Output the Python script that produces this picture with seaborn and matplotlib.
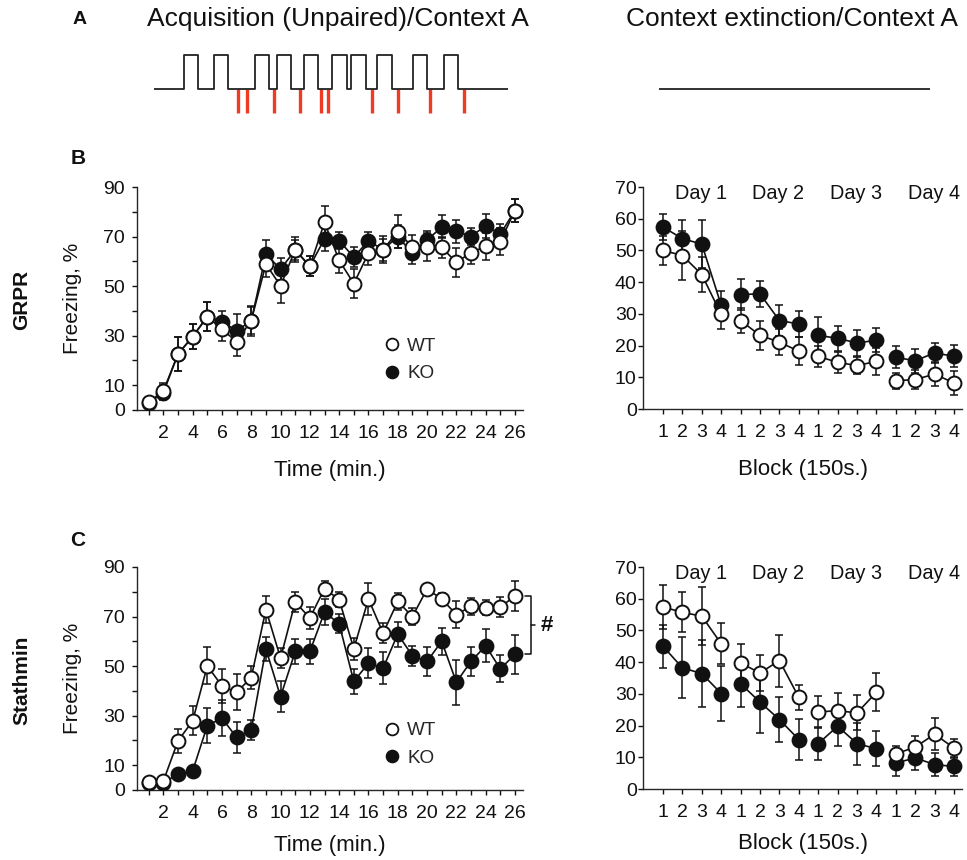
import matplotlib
matplotlib.use("Agg")
import matplotlib.pyplot as plt
import seaborn as sns
import pandas as pd
from matplotlib.lines import Line2D

# ---------------- data ----------------
time_min = list(range(1, 27))
time_ticklabels = [str(t) if t % 2 == 0 else "" for t in time_min]
blocks = list(range(1, 17))
block_day = [1] * 4 + [2] * 4 + [3] * 4 + [4] * 4
block_ticklabels = ["1", "2", "3", "4"] * 4
day_labels = ["Day 1", "Day 2", "Day 3", "Day 4"]
acq_yticks = [0, 10, 20, 30, 40, 50, 60, 70, 80, 90]
acq_yticklabels = ["0", "10", "", "30", "", "50", "", "70", "", "90"]
ext_yticks = [0, 10, 20, 30, 40, 50, 60, 70]

# GRPR acquisition
grpr_acq_wt = [3.1, 7.7, 22.6, 29.6, 37.7, 32.6, 27.6, 36.1, 58.9, 50.1, 64.7, 58.0, 75.7,
               60.4, 51.0, 63.3, 64.7, 72.0, 65.8, 65.8, 65.6, 59.6, 63.5, 66.0, 68.0, 80.5]
grpr_acq_wt_err = [1, 3, 7, 5, 6, 4.6, 6, 5.5, 5.3, 7, 5, 4, 6.5, 5, 6, 4.7, 5.5, 6.6, 5,
                   5.8, 4.3, 5.9, 4.5, 5.4, 5.4, 4.8]
grpr_acq_ko = [3.0, 7.0, 22.6, 29.6, 37.7, 35.7, 32.0, 36.0, 62.8, 56.9, 64.5, 58.0, 69.1,
               68.3, 61.7, 68.3, 64.7, 70.0, 63.3, 68.5, 73.9, 72.2, 70.0, 74.4, 71.0, 80.5]
grpr_acq_ko_err = [1, 3, 7, 5, 6, 4.4, 6.9, 6, 5.7, 4.5, 4, 4, 5, 3.5, 4, 3.4, 4.5, 4.5,
                   4.5, 3.6, 4.6, 4.6, 3.4, 4.9, 4, 4.8]

# GRPR extinction
grpr_ext_wt = [50.0, 48.4, 42.4, 29.8, 27.9, 23.2, 21.1, 18.2, 16.6, 14.7, 13.7, 15.0,
               8.9, 9.3, 11.0, 8.2]
grpr_ext_wt_err = [4.7, 7.6, 5.6, 4.5, 4.0, 4.5, 4.0, 4.4, 3.4, 3.2, 2.8, 4.2, 2.6, 2.9, 3.9, 3.7]
grpr_ext_ko = [57.4, 53.7, 52.0, 32.7, 36.1, 36.3, 27.9, 26.8, 23.2, 22.3, 20.8, 21.7,
               16.3, 15.2, 17.7, 16.6]
grpr_ext_ko_err = [4.1, 6.0, 7.5, 4.4, 4.9, 4.0, 5.0, 4.0, 5.7, 4.0, 4.2, 3.8, 3.5, 3.8, 3.2, 3.5]

# Stathmin acquisition
stat_acq_wt = [3.4, 3.6, 19.8, 27.9, 50.1, 42.0, 39.4, 45.4, 72.8, 53.2, 75.9, 69.4, 81.3,
               76.8, 57.0, 77.1, 63.3, 76.1, 70.0, 81.1, 77.1, 70.8, 74.1, 73.5, 73.9, 78.2]
stat_acq_wt_err = [1, 1, 4.8, 5.8, 7.5, 7, 7.3, 4.5, 5.4, 4, 4, 4.4, 3, 3, 4.5, 6.5, 4, 3.4,
                   3.4, 2, 2.5, 5.6, 3.5, 3, 4, 6]
stat_acq_ko = [3.0, 3.0, 6.3, 7.7, 26.0, 29.0, 21.2, 24.3, 56.9, 37.7, 55.9, 55.9, 71.8,
               67.1, 43.8, 51.2, 49.2, 62.9, 54.2, 51.9, 60.0, 43.5, 51.9, 58.2, 48.9, 54.7]
stat_acq_ko_err = [1, 1, 2, 2, 7, 7.4, 6.3, 4, 5, 6.3, 5, 5, 5.2, 3.8, 5.1, 6, 6.5, 5.1, 4,
                   5.8, 5.4, 9, 6, 6.7, 5.4, 7.7]

# Stathmin extinction
stat_ext_wt = [57.4, 55.7, 54.5, 45.8, 39.7, 36.6, 40.5, 28.9, 24.3, 24.7, 24.0, 30.5,
               11.1, 13.2, 17.3, 12.9]
stat_ext_wt_err = [7.0, 6.3, 9.1, 6.5, 6.0, 5.7, 8.2, 4.0, 4.9, 5.5, 5.5, 6.0, 2.5, 3.5, 5.0, 3.0]
stat_ext_ko = [45.0, 38.2, 36.4, 30.1, 33.2, 27.4, 21.9, 15.6, 14.3, 19.8, 14.3, 12.7,
               8.2, 9.8, 7.7, 7.1]
stat_ext_ko_err = [6.8, 9.6, 10.5, 8.7, 7.3, 9.7, 7.0, 6.5, 5.0, 6.3, 6.6, 5.6, 4.0, 3.9, 3.5, 3.1]

# Protocol schematic (minutes)
session_length = 26
tone_onsets = [2.2, 4.4, 7.4, 9.0, 11.0, 13.1, 14.5, 16.4, 19.0, 21.3]
tone_duration = 1.06
shock_times = [6.2, 6.8, 8.8, 10.7, 12.3, 12.8, 16.0, 17.9, 20.3, 22.8]

# ---------------- style ----------------
sns.set_style("ticks")
plt.rcParams["font.family"] = ["Liberation Sans", "DejaVu Sans"]
plt.rcParams["axes.linewidth"] = 1.0

W, H = 967, 860
fig = plt.figure(figsize=(W / 100, H / 100), dpi=100)
fig.patch.set_facecolor("white")


def fx(px):
    return px / W


def fy(py):
    return 1 - py / H


BLACK = "#111111"
MS = 100  # scatter marker area


def draw_series(ax, x, y, err, filled, units=None, z=3):
    df = pd.DataFrame({"x": x, "y": y})
    ax.errorbar(x, y, yerr=err, fmt="none", ecolor=BLACK, elinewidth=1.1,
                capsize=2.6, capthick=1.1, zorder=z)
    if units is None:
        sns.lineplot(data=df, x="x", y="y", color=BLACK, lw=1.2, ax=ax,
                     estimator=None, sort=False, zorder=z)
    else:
        df["u"] = units
        sns.lineplot(data=df, x="x", y="y", units="u", estimator=None, color=BLACK,
                     lw=1.2, ax=ax, zorder=z)
    sns.scatterplot(data=df, x="x", y="y", s=MS, color=BLACK if filled else "white",
                    edgecolor=BLACK, linewidth=1.4, ax=ax, zorder=z + 0.5)


def style_acq(ax, xlabel_y):
    ax.set_xlim(0.2, 26.55)
    ax.set_ylim(0, 90)
    ax.set_xticks(time_min)
    ax.set_xticklabels(time_ticklabels)
    ax.set_yticks(acq_yticks)
    ax.set_yticklabels(acq_yticklabels)
    ax.tick_params(axis="both", direction="out", length=3.5, width=1.0, labelsize=14,
                   color=BLACK, labelcolor=BLACK)
    ax.tick_params(axis="x", pad=7)
    ax.tick_params(axis="y", pad=5)
    ax.set_xlabel("Time (min.)", fontsize=16, color=BLACK)
    ax.set_ylabel("Freezing, %", fontsize=15, color=BLACK)
    ax.xaxis.set_label_coords(0.5, xlabel_y)
    ax.yaxis.set_label_coords(-0.142, 0.5)
    sns.despine(ax=ax)


def style_ext(ax, xlabel_y):
    ax.set_xlim(-0.03, 16.41)
    ax.set_ylim(0, 70)
    ax.set_xticks(blocks)
    ax.set_xticklabels(block_ticklabels)
    ax.set_yticks(ext_yticks)
    ax.tick_params(axis="both", direction="out", length=3.5, width=1.0, labelsize=14,
                   color=BLACK, labelcolor=BLACK)
    ax.tick_params(axis="x", pad=7)
    ax.tick_params(axis="y", pad=1)
    ax.set_xlabel("Block (150s.)", fontsize=16, color=BLACK)
    ax.set_ylabel("")
    ax.xaxis.set_label_coords(0.5, xlabel_y)
    for k, lab in enumerate(day_labels):
        ax.text(4 * k + 2.95, 68, lab, ha="center", va="center", fontsize=14.3, color=BLACK)
    sns.despine(ax=ax)


def add_legend(ax, anchor):
    handles = [Line2D([], [], marker="o", ls="none", mfc="white", mec=BLACK, mew=1.3, ms=8.5),
               Line2D([], [], marker="o", ls="none", mfc=BLACK, mec=BLACK, mew=1.3, ms=8.5)]
    ax.legend(handles, ["WT", "KO"], loc="upper left", bbox_to_anchor=anchor, frameon=False,
              fontsize=13.6, handlelength=1.0, handletextpad=0.3, borderpad=0,
              borderaxespad=0, labelspacing=0.55)


# ---------------- panel A: protocol schematic ----------------
axA = fig.add_axes([fx(154), fy(115), fx(508 - 154), 65 / H])
xs, ys = [0], [0]
for on in tone_onsets:
    xs += [on, on, on + tone_duration, on + tone_duration]
    ys += [0, 1, 1, 0]
xs.append(session_length)
ys.append(0)
axA.plot(xs, ys, color="#222222", lw=1.3, zorder=3)
axA.vlines(shock_times, -0.706, 0, colors="#ee3b24", lw=2.4, zorder=2)
axA.set_xlim(0, session_length)
axA.set_ylim(-0.765, 1.147)
axA.axis("off")

axA2 = fig.add_axes([fx(659), fy(115), fx(930 - 659), 65 / H])
axA2.plot([0, 1], [0, 0], color="#222222", lw=1.3)
axA2.set_xlim(0, 1)
axA2.set_ylim(-0.765, 1.147)
axA2.axis("off")

fig.text(fx(80), fy(19), "A", fontsize=14, fontweight="bold", ha="center", va="center",
         color=BLACK)
fig.text(fx(338), fy(19), "Acquisition (Unpaired)/Context A", fontsize=19, ha="center",
         va="center", color=BLACK)
fig.text(fx(792), fy(19), "Context extinction/Context A", fontsize=19, ha="center",
         va="center", color=BLACK)

# ---------------- panel B ----------------
axB1 = fig.add_axes([fx(137), fy(410), fx(523 - 137), 223 / H])
draw_series(axB1, time_min, grpr_acq_ko, grpr_acq_ko_err, True, z=3)
draw_series(axB1, time_min, grpr_acq_wt, grpr_acq_wt_err, False, z=4)
style_acq(axB1, -0.222)
add_legend(axB1, (0.636, 0.325))

axB2 = fig.add_axes([fx(643), fy(409), fx(962 - 643), 222 / H])
draw_series(axB2, blocks, grpr_ext_ko, grpr_ext_ko_err, True, units=block_day, z=3)
draw_series(axB2, blocks, grpr_ext_wt, grpr_ext_wt_err, False, units=block_day, z=4)
style_ext(axB2, -0.225)

fig.text(fx(78), fy(158), "B", fontsize=15, fontweight="bold", ha="center", va="center",
         color=BLACK)
fig.text(fx(22), fy(300), "GRPR", fontsize=15, fontweight="bold", rotation=90,
         ha="center", va="center", color=BLACK)

# ---------------- panel C ----------------
axC1 = fig.add_axes([fx(137), fy(790), fx(523 - 137), 223 / H])
draw_series(axC1, time_min, stat_acq_ko, stat_acq_ko_err, True, z=3)
draw_series(axC1, time_min, stat_acq_wt, stat_acq_wt_err, False, z=4)
style_acq(axC1, -0.2)
add_legend(axC1, (0.636, 0.305))

# significance bracket between final WT and KO values
x_end = time_min[-1]
y_top, y_bot = stat_acq_wt[-1], stat_acq_ko[-1]
y_mid = (y_top + y_bot) / 2
axC1.plot([x_end + 0.68, x_end + 1.09, x_end + 1.09, x_end + 0.68],
          [y_top, y_top, y_bot, y_bot], color=BLACK, lw=1.1, clip_on=False)
axC1.plot([x_end + 1.09, x_end + 1.37], [y_mid, y_mid], color=BLACK, lw=1.1, clip_on=False)
axC1.text(x_end + 2.2, y_mid, "#", fontsize=16, fontweight="bold", ha="center",
          va="center", color=BLACK, clip_on=False)

axC2 = fig.add_axes([fx(643), fy(789), fx(962 - 643), 222 / H])
draw_series(axC2, blocks, stat_ext_ko, stat_ext_ko_err, True, units=block_day, z=3)
draw_series(axC2, blocks, stat_ext_wt, stat_ext_wt_err, False, units=block_day, z=4)
style_ext(axC2, -0.2)

fig.text(fx(78), fy(540), "C", fontsize=15, fontweight="bold", ha="center", va="center",
         color=BLACK)
fig.text(fx(22), fy(680), "Stathmin", fontsize=15, fontweight="bold", rotation=90,
         ha="center", va="center", color=BLACK)

fig.savefig("out.png", dpi=100, facecolor="white")
